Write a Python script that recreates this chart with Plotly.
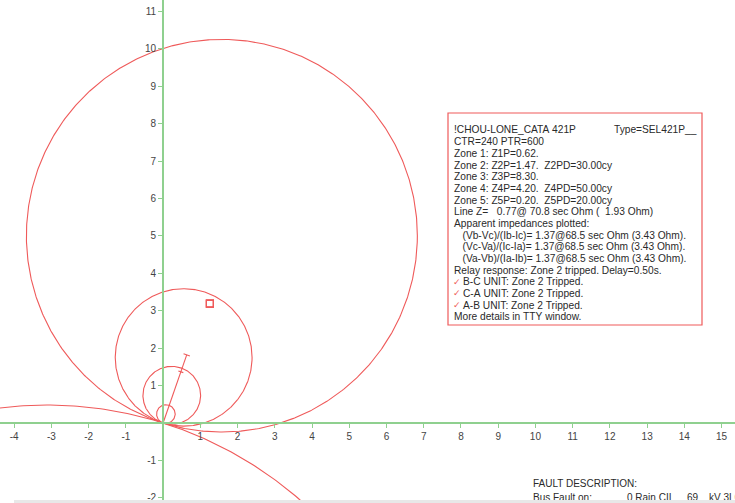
import numpy as np
import plotly.graph_objects as go

# Relay settings (secondary ohms) and instrument transformer ratios
CTR = 240
PTR = 600
zone_names = ["Zone 1", "Zone 2", "Zone 3", "Zone 4", "Zone 5"]
zone_reach_sec = [0.62, 1.47, 8.30, 4.20, 0.20]
zone_direction = [1, 1, -1, 1, 1]          # zone 3 looks reverse
mho_angle_deg = 72.5

# Line impedance and marks along it (primary ohms)
line_z_ohm = 1.93
line_angle_deg = 70.8
line_marks_ohm = [1.45, 1.93]

# Apparent impedances seen by the three phase-pair units (primary ohms)
apparent_units = ["(Vb-Vc)/(Ib-Ic)", "(Vc-Va)/(Ic-Ia)", "(Va-Vb)/(Ia-Ib)"]
apparent_mag_ohm = [3.43, 3.43, 3.43]
apparent_ang_deg = [68.5, 68.5, 68.5]

# Axis ticks
x_ticks = [-4, -3, -2, -1, 1, 2, 3, 4, 5, 6, 7, 8, 9, 10, 11, 12, 13, 14, 15]
y_ticks = [-2, -1, 1, 2, 3, 4, 5, 6, 7, 8, 9, 10, 11]

info_lines = [
    "!CHOU-LONE_CATA 421P",
    "CTR=240 PTR=600",
    "Zone 1: Z1P=0.62.",
    "Zone 2: Z2P=1.47.  Z2PD=30.00cy",
    "Zone 3: Z3P=8.30.",
    "Zone 4: Z4P=4.20.  Z4PD=50.00cy",
    "Zone 5: Z5P=0.20.  Z5PD=20.00cy",
    "Line Z=   0.77@ 70.8 sec Ohm (  1.93 Ohm)",
    "Apparent impedances plotted:",
    "   (Vb-Vc)/(Ib-Ic)= 1.37@68.5 sec Ohm (3.43 Ohm).",
    "   (Vc-Va)/(Ic-Ia)= 1.37@68.5 sec Ohm (3.43 Ohm).",
    "   (Va-Vb)/(Ia-Ib)= 1.37@68.5 sec Ohm (3.43 Ohm).",
    "Relay response: Zone 2 tripped. Delay=0.50s.",
    "B-C UNIT: Zone 2 Tripped.",
    "C-A UNIT: Zone 2 Tripped.",
    "A-B UNIT: Zone 2 Tripped.",
    "More details in TTY window.",
]
checked_lines = [13, 14, 15]

W, H = 735, 503
x_range = [-4.38, 15.36]
y_range = [-2.14, 11.31]

RED = "#ef5a5a"
GREEN = "#8fd08f"
TXT = "#2a2a2a"

fig = go.Figure()

# Mho circles, each passing through the origin
ratio = PTR / CTR
a = np.radians(mho_angle_deg)
t = np.linspace(0, 2 * np.pi, 721)
for name, zs, d in zip(zone_names, zone_reach_sec, zone_direction):
    diam = zs * ratio
    cx = d * diam / 2 * np.cos(a)
    cy = d * diam / 2 * np.sin(a)
    r = diam / 2
    fig.add_trace(go.Scatter(x=cx + r * np.cos(t), y=cy + r * np.sin(t),
                             mode="lines", line=dict(color=RED, width=1.1),
                             name=name, hoverinfo="skip"))

# Line impedance with perpendicular marks
la = np.radians(line_angle_deg)
ux, uy = np.cos(la), np.sin(la)
fig.add_trace(go.Scatter(x=[0, line_z_ohm * ux], y=[0, line_z_ohm * uy],
                         mode="lines", line=dict(color=RED, width=1.1),
                         name="Line Z"))
for k, m in enumerate(line_marks_ohm):
    half = 0.09 if k == len(line_marks_ohm) - 1 else 0.07
    px, py = m * ux, m * uy
    fig.add_trace(go.Scatter(x=[px - half * uy, px + half * uy],
                             y=[py + half * ux, py - half * ux],
                             mode="lines", line=dict(color=RED, width=1.1),
                             showlegend=False))

# Apparent impedance points
ax_ = [m * np.cos(np.radians(g)) for m, g in zip(apparent_mag_ohm, apparent_ang_deg)]
ay_ = [m * np.sin(np.radians(g)) for m, g in zip(apparent_mag_ohm, apparent_ang_deg)]
fig.add_trace(go.Scatter(x=ax_, y=ay_, mode="markers", text=apparent_units,
                         marker=dict(symbol="square-open", size=7,
                                     color=RED, line=dict(width=1.2))))

xpos = (0 - y_range[0]) / (y_range[1] - y_range[0])
ypos = (0 - x_range[0]) / (x_range[1] - x_range[0])

fig.update_layout(
    width=W, height=H, showlegend=False,
    paper_bgcolor="white", plot_bgcolor="white",
    margin=dict(l=0, r=0, t=0, b=0),
    xaxis=dict(range=x_range, anchor="free", position=xpos,
               showline=True, linecolor=GREEN, linewidth=2,
               ticks="outside", ticklen=4, tickcolor=GREEN, tickwidth=1,
               tickvals=x_ticks, ticktext=[str(v) for v in x_ticks],
               tickfont=dict(family="Arial", size=10, color="#444"),
               ticklabeloverflow="allow",
               showgrid=False, zeroline=False),
    yaxis=dict(range=y_range, anchor="free", position=ypos,
               showline=True, linecolor=GREEN, linewidth=2,
               ticks="outside", ticklen=4, tickcolor=GREEN, tickwidth=1,
               tickvals=y_ticks, ticktext=[str(v) for v in y_ticks],
               tickfont=dict(family="Arial", size=10, color="#444"),
               ticklabeloverflow="allow",
               showgrid=False, zeroline=False),
)


def px2paper(px, py):
    return px / W, 1 - py / H


# Information box
x0, y0 = px2paper(448, 113)
x1, y1 = px2paper(702, 325)
fig.add_shape(type="rect", xref="paper", yref="paper", x0=x0, y0=y1, x1=x1, y1=y0,
              fillcolor="white", line=dict(color=RED, width=1.2), layer="above")

font = dict(family="Arial", size=10.2, color=TXT)
for i, s in enumerate(info_lines):
    yy = 130 + i * 11.67
    xx = 461 if i in checked_lines else 452
    ppx, ppy = px2paper(xx, yy)
    fig.add_annotation(x=ppx, y=ppy, xref="paper", yref="paper", text=s.replace(" ", "&nbsp;"),
                       showarrow=False, xanchor="left", yanchor="middle", font=font)
    if i in checked_lines:
        cpx, cpy = px2paper(451, yy)
        fig.add_annotation(x=cpx, y=cpy, xref="paper", yref="paper", text="✓",
                           showarrow=False, xanchor="left", yanchor="middle",
                           font=dict(family="DejaVu Sans", size=9, color=RED))
tpx, tpy = px2paper(612, 130)
fig.add_annotation(x=tpx, y=tpy, xref="paper", yref="paper", text="Type=SEL421P__",
                   showarrow=False, xanchor="left", yanchor="middle", font=font)

# Fault description footer
for s, xx, yy in [("FAULT DESCRIPTION:", 531, 483), ("Bus Fault on:", 531, 497),
                  ("0 Rain CII", 625, 497), ("69", 685, 497), ("kV 3LG", 707, 497)]:
    ppx, ppy = px2paper(xx, yy)
    fig.add_annotation(x=ppx, y=ppy, xref="paper", yref="paper", text=s,
                       showarrow=False, xanchor="left", yanchor="middle",
                       font=dict(family="Arial", size=10, color=TXT))

# Status strip along the bottom edge
sx, sy = px2paper(14, 503)
fig.add_annotation(x=sx, y=0, xref="paper", yref="paper", text="&nbsp;",
                   showarrow=False, xanchor="left", yanchor="bottom",
                   width=W - 14, height=3, bgcolor="#e8e8e8", borderpad=0,
                   borderwidth=0, font=dict(size=1))

fig.write_html("out.html")
